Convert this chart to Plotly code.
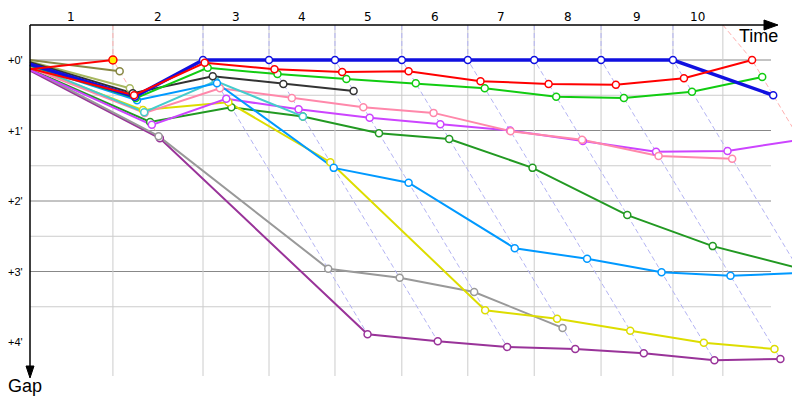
import plotly.graph_objects as go

# ---------------- data (minutes) ----------------
laps = [1, 2, 3, 4, 5, 6, 7, 8, 9, 10]
leader_time = [1.96, 4.09, 5.65, 7.21, 8.79, 10.35, 11.92, 13.50, 15.20, 17.07]   # leader crossing time per lap
lap_marks = [1.96, 4.09, 5.65, 7.21, 8.79, 10.35, 11.92, 13.50, 15.20, 16.38]     # lap grid lines
lap_leader = ["red", "blue", "blue", "blue", "blue", "blue", "blue", "blue", "blue", "red"]
gap_ticks = [0, 1, 2, 3, 4]
gap_tick_labels = ["+0'", "+1'", "+2'", "+3'", "+4'"]

# gap to leader: index 0 = start, index k = after lap k
gap_lead_lap1 = [0.13, 0.00]
gap_olive = [0.00, 0.16]
gap_lightolive = [0.02, 0.40]
gap_black = [0.03, 0.47, 0.23, 0.34, 0.44]
gap_red = [0.12, 0.50, 0.04, 0.13, 0.17, 0.16, 0.30, 0.34, 0.35, 0.26, 0.00]
gap_green = [0.08, 0.54, 0.11, 0.20, 0.27, 0.33, 0.40, 0.52, 0.54, 0.45, 0.24]
gap_lightblue = [0.08, 0.57, 0.33, 1.53, 1.74, 2.67, 2.82, 3.01, 3.06, 3.02]
gap_cyan = [0.07, 0.74, 0.30, 0.80]
gap_pink = [0.11, 0.75, 0.40, 0.54, 0.67, 0.75, 1.01, 1.13, 1.36, 1.40]
gap_magenta = [0.14, 0.92, 0.55, 0.70, 0.82, 0.91, 1.00, 1.15, 1.30, 1.29, 1.13]
gap_yellow = [0.10, 0.71, 0.60, 1.45, 3.55, 3.67, 3.84, 4.01, 4.10]
gap_darkgreen = [0.13, 0.88, 0.67, 0.80, 1.04, 1.12, 1.53, 2.20, 2.64, 2.95]
gap_gray = [0.13, 1.08, 2.96, 3.09, 3.29, 3.80]
gap_purple = [0.15, 1.11, 3.89, 3.99, 4.07, 4.10, 4.16, 4.26, 4.24]
gap_blue = [0.06, 0.52, 0, 0, 0, 0, 0, 0, 0, 0, 0.50]

drivers = [
    ("purple", gap_purple, "#993399", 2),
    ("gray", gap_gray, "#999999", 2),
    ("darkgreen", gap_darkgreen, "#229922", 2),
    ("yellow", gap_yellow, "#dddd00", 2),
    ("magenta", gap_magenta, "#cc44ff", 2),
    ("pink", gap_pink, "#ff88aa", 2),
    ("cyan", gap_cyan, "#44cccc", 2),
    ("lightblue", gap_lightblue, "#0099ff", 2),
    ("olive", gap_olive, "#888844", 2),
    ("lightolive", gap_lightolive, "#a8b860", 2),
    ("black", gap_black, "#333333", 2),
    ("green", gap_green, "#11cc11", 2),
    ("blue", gap_blue, "#1010e0", 3.5),
    ("red", gap_red, "#ff0000", 2),
]

# ---------------- geometry helpers (decoration only, screen pixels) ----------------
def X(px):
    return (px - 30) / 42.3

def Y(py):
    return (py - 60) / 70.5

PAGE_OFF = 8  # page body margin

fig = go.Figure()

# lap lines (dashed), through every driver's crossing of that lap
lap_col = {"red": "#ffb0b0", "blue": "#b4b4f4"}
all_series = drivers + [("lead1", gap_lead_lap1, "#ff0000", 2)]
for k in laps:
    pts = []
    for name, g, c, w in all_series:
        if len(g) > k:
            pts.append(g[k])
    pts.sort()
    xs = [lap_marks[k - 1]] + [leader_time[k - 1] + p for p in pts]
    ys = [Y(25)] + pts
    fig.add_trace(go.Scatter(x=xs, y=ys, mode="lines", hoverinfo="skip",
                             line=dict(color=lap_col[lap_leader[k - 1]], width=1, dash="5px,3px")))

def xy(g):
    xs = [0] + [leader_time[k - 1] + g[k] for k in range(1, len(g))]
    return xs, g

for name, g, c, w in drivers:
    xs, ys = xy(g)
    fig.add_trace(go.Scatter(x=xs, y=ys, mode="lines", line=dict(color=c, width=w), hoverinfo="skip"))
lx, ly = xy(gap_lead_lap1)
fig.add_trace(go.Scatter(x=lx, y=ly, mode="lines", line=dict(color="#ff0000", width=2), hoverinfo="skip"))

for name, g, c, w in drivers:
    xs, ys = xy(g)
    fig.add_trace(go.Scatter(x=xs[1:], y=ys[1:], mode="markers", hoverinfo="skip",
                             marker=dict(size=7, color="white", line=dict(color=c, width=1.5))))
fig.add_trace(go.Scatter(x=lx[1:], y=ly[1:], mode="markers", hoverinfo="skip",
                         marker=dict(size=8, color="#ffee00", line=dict(color="#ff0000", width=1.5))))

shapes = []
# grid
for i in range(8):
    gv = i * 0.5
    major = (i % 2 == 0)
    shapes.append(dict(type="line", xref="x", yref="y", x0=0, x1=X(771), y0=gv, y1=gv, layer="below",
                       line=dict(color="#888888" if major else "#cccccc", width=1)))
for m in lap_marks:
    shapes.append(dict(type="line", xref="x", yref="y", x0=m, x1=m, y0=Y(25), y1=Y(376), layer="below",
                       line=dict(color="#cccccc", width=1)))
# axes
shapes.append(dict(type="line", xref="x", yref="y", x0=X(30), x1=X(768), y0=Y(25), y1=Y(25),
                   line=dict(color="black", width=1.5)))
shapes.append(dict(type="path", xref="x", yref="y",
                   path=f"M {X(764)} {Y(20)} L {X(778)} {Y(25)} L {X(764)} {Y(30)} Z",
                   fillcolor="black", line=dict(color="black", width=1)))
shapes.append(dict(type="line", xref="x", yref="y", x0=X(30), x1=X(30), y0=Y(25), y1=Y(370),
                   line=dict(color="black", width=1.5)))
shapes.append(dict(type="path", xref="x", yref="y",
                   path=f"M {X(26)} {Y(366)} L {X(30)} {Y(378)} L {X(34)} {Y(366)} Z",
                   fillcolor="black", line=dict(color="black", width=1)))

ann = []
prev = 0
for k, m in zip(laps, lap_marks):
    ann.append(dict(x=(prev + m) / 2, y=Y(17), text=str(k), showarrow=False, xref="x", yref="y",
                    font=dict(size=12, color="black", family="DejaVu Sans")))
    prev = m
for v, t in zip(gap_ticks, gap_tick_labels):
    ann.append(dict(x=X(25), y=v, text=t, showarrow=False, xref="x", yref="y", xanchor="right",
                    font=dict(size=11, color="black", family="Liberation Sans")))
ann.append(dict(x=X(758), y=Y(36), text="Time", showarrow=False, xref="x", yref="y",
                font=dict(size=18, color="black", family="Liberation Sans")))
ann.append(dict(x=X(25), y=Y(386), text="Gap", showarrow=False, xref="x", yref="y",
                font=dict(size=18, color="black", family="Liberation Sans")))

fig.update_layout(
    width=800, height=400, margin=dict(l=0, r=0, t=0, b=0),
    paper_bgcolor="white", plot_bgcolor="white", showlegend=False,
    xaxis=dict(range=[X(PAGE_OFF), X(800 + PAGE_OFF)], visible=False, fixedrange=True),
    yaxis=dict(range=[Y(400 + PAGE_OFF), Y(PAGE_OFF)], visible=False, fixedrange=True),
    shapes=shapes, annotations=ann,
)
fig.write_html("out.html")
